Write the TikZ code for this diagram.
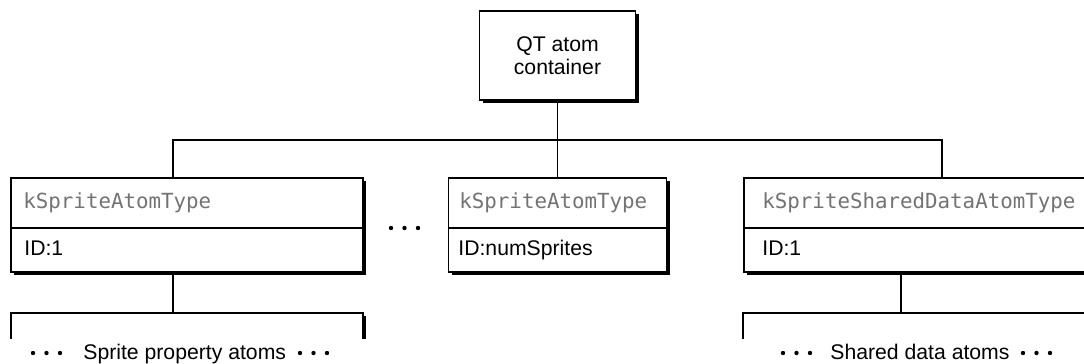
\documentclass[tikz,border=0pt]{standalone}
\usepackage{fontspec}
\setmainfont{Liberation Sans}
\newfontfamily\monof{DejaVu Sans Mono}
\usetikzlibrary{shadows}
\begin{document}
\begin{tikzpicture}[x=0.5pt,y=-0.5pt,
  atombox/.style={draw, line width=0.6pt, fill=white,
    drop shadow={shadow xshift=1.6pt, shadow yshift=-1.6pt, opacity=1, fill=black},
    inner sep=0pt, outer sep=0pt},
  conn/.style={line width=0.6pt},
  typetext/.style={font=\monof\fontsize{10.4}{12}\selectfont, text=black!55, anchor=base west, inner sep=0pt},
  idtext/.style={font=\fontsize{10.6}{12}\selectfont, anchor=base west, inner sep=0pt},
  dotmark/.style={fill=black}]
\useasboundingbox (0,0) rectangle (1084,364);
\clip (0,0) rectangle (1084,364);

% top container
\node[atombox, minimum width=78pt, minimum height=44.5pt, align=center,
      font=\fontsize{10.6}{11.6}\selectfont] (qt) at (557.5,55.5) {QT atom\\container};

% atom boxes
\node[atombox, minimum width=176pt, minimum height=47pt] (a1) at (187,225) {};
\node[atombox, minimum width=109pt, minimum height=47pt] (a2) at (557.5,225) {};
\node[atombox, minimum width=268pt, minimum height=47pt] (a3) at (1012,225) {};

\foreach \b in {a1,a2,a3}{
  \draw[conn] ([yshift=-25pt]\b.north west) -- ([yshift=-25pt]\b.north east);
}

\node[typetext] (t1) at (23,208) {kSpriteAtomType};
\node[idtext]   (i1) at (24,255) {ID:1};
\node[typetext] (t2) at (459,208) {kSpriteAtomType};
\node[idtext]   (i2) at (458,255) {ID:numSprites};
\node[typetext] (t3) at (762,208) {kSpriteSharedDataAtomType};
\node[idtext]   (i3) at (762,255) {ID:1};

% middle dots
\foreach \x in {391,404.5,418}{ \fill[dotmark] (\x,228) circle[radius=1.1pt]; }

% connectors
\coordinate (hl) at (173,140);
\coordinate (hr) at (942,140);
\draw[conn] (a1.north -| hl) -- (hl) -- (hr) -- (a3.north -| hr);
\draw[conn] (qt.south) -- (a2.north);

\coordinate (b1top) at (173,313);
\coordinate (b2top) at (901,313);
\draw[conn] (a1.south -| b1top) -- (b1top);
\draw[conn] (a3.south -| b2top) -- (b2top);

% lower (open) boxes
\draw[conn] (11,339) -- (11,313) -- (363,313) -- (363,339);
\fill (363,316) rectangle (366.2,339);
\draw[conn] (743,339) -- (743,313) -- (1090,313);

% lower labels
\node[idtext] (s1) at (83,359.5) {Sprite property atoms};
\foreach \x in {33,46.5,60,300,313.5,327}{ \fill[dotmark] (\x,353) circle[radius=1.1pt]; }
\node[idtext] (s2) at (830,359.5) {Shared data atoms};
\foreach \x in {783,796.5,810,1023,1036.5,1050}{ \fill[dotmark] (\x,353) circle[radius=1.1pt]; }
\end{tikzpicture}
\end{document}
